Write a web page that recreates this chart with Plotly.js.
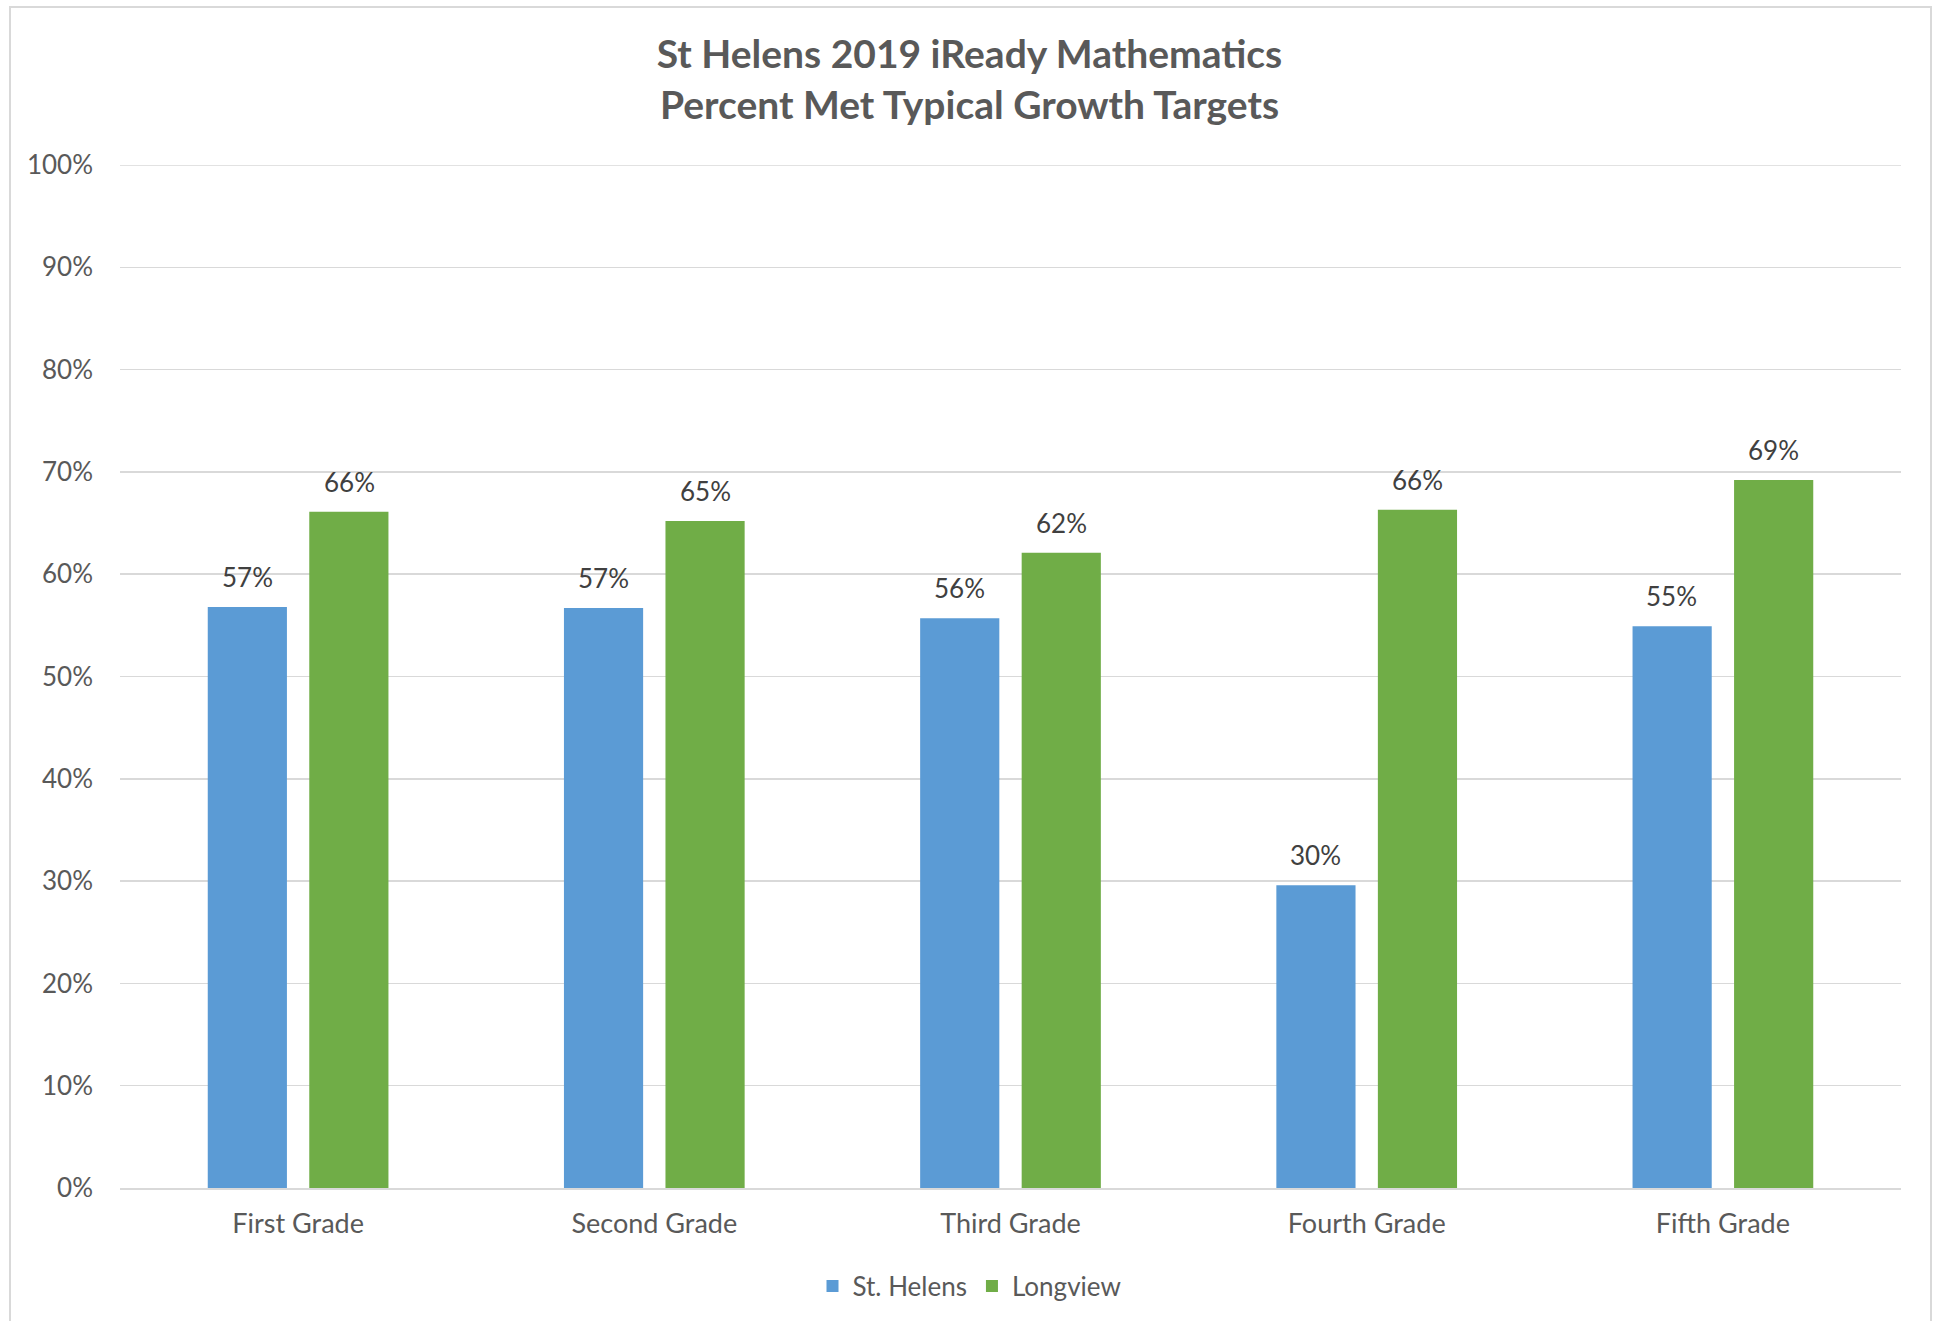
<!DOCTYPE html>
<html>
<head>
<meta charset="utf-8">
<script src="https://cdn.plot.ly/plotly-3.0.1.min.js"></script>
<style>
  html, body { margin: 0; padding: 0; background: #ffffff; }
  #chart { position: absolute; left: 0; top: 0; width: 1939px; height: 1321px; }
  #frame { position: absolute; left: 9px; top: 6px; width: 1919px; height: 1330px;
           border: 2px solid #d9d9d9; pointer-events: none; }
</style>
</head>
<body>
<div id="chart"></div>
<div id="frame"></div>
<script>
const categories = ["First Grade", "Second Grade", "Third Grade", "Fourth Grade", "Fifth Grade"];
const stHelens = [0.568, 0.567, 0.557, 0.296, 0.549];
const longview = [0.661, 0.652, 0.621, 0.663, 0.692];
const yTickVals = [0, 0.1, 0.2, 0.3, 0.4, 0.5, 0.6, 0.7, 0.8, 0.9, 1.0];
const yTickText = ["0%", "10%", "20%", "30%", "40%", "50%", "60%", "70%", "80%", "90%", "100%"];

const FONT = "Lato, 'Open Sans', sans-serif";
const seriesList = [
  { name: "St. Helens", values: stHelens, color: "#5B9BD5", shift: -51 },
  { name: "Longview", values: longview, color: "#70AD47", shift: 51 }
];

const traces = seriesList.map(s => ({
  type: "bar", name: s.name, x: categories, y: s.values,
  marker: { color: s.color }, hoverinfo: "none"
}));

const annotations = [];
seriesList.forEach(s => {
  s.values.forEach((v, i) => {
    annotations.push({
      x: categories[i], y: v, xref: "x", yref: "y",
      text: Math.round(v * 100) + "%",
      showarrow: false, xshift: s.shift, yshift: 30,
      xanchor: "center", yanchor: "middle",
      font: { family: FONT, size: 26, color: "#404040" }
    });
  });
});

const yMax = yTickVals[yTickVals.length - 1];

const layout = {
  width: 1939, height: 1321,
  margin: { l: 120, r: 38, t: 165, b: 133 },
  paper_bgcolor: "#ffffff", plot_bgcolor: "#ffffff",
  font: { family: FONT, color: "#595959" },
  title: {
    text: "<b>St Helens 2019 iReady Mathematics<br>Percent Met Typical Growth Targets</b>",
    font: { family: FONT, size: 39, color: "#595959" },
    x: 0.5, xref: "container", xanchor: "center",
    y: 1 - 68 / 1321, yref: "container", yanchor: "middle"
  },
  barmode: "group", bargap: 0.43, bargroupgap: 0.22,
  xaxis: {
    type: "category", showgrid: false, ticks: "",
    showline: true, linecolor: "#d9d9d9", linewidth: 2,
    tickfont: { family: FONT, size: 27, color: "#595959" },
    ticklabelstandoff: 11, zeroline: false
  },
  yaxis: {
    range: [0, yMax], tickvals: yTickVals, ticktext: yTickText,
    showgrid: true, gridcolor: "#d9d9d9", gridwidth: 1.5,
    showline: false, zeroline: false, ticks: "",
    tickfont: { family: FONT, size: 26, color: "#595959" },
    ticklabelstandoff: 26
  },
  shapes: [{
    type: "line", xref: "paper", yref: "y", x0: 0, x1: 1, y0: yMax, y1: yMax,
    line: { color: "#d9d9d9", width: 1.5 }, layer: "below"
  }],
  annotations: annotations,
  showlegend: true,
  legend: {
    orientation: "h", x: 0.5, xref: "container", xanchor: "center",
    y: 1 - 1286 / 1321, yref: "container", yanchor: "middle",
    font: { family: FONT, size: 26, color: "#595959" },
    itemwidth: 30, traceorder: "normal"
  }
};

Plotly.newPlot("chart", traces, layout, { displayModeBar: false, staticPlot: true });
</script>
</body>
</html>
